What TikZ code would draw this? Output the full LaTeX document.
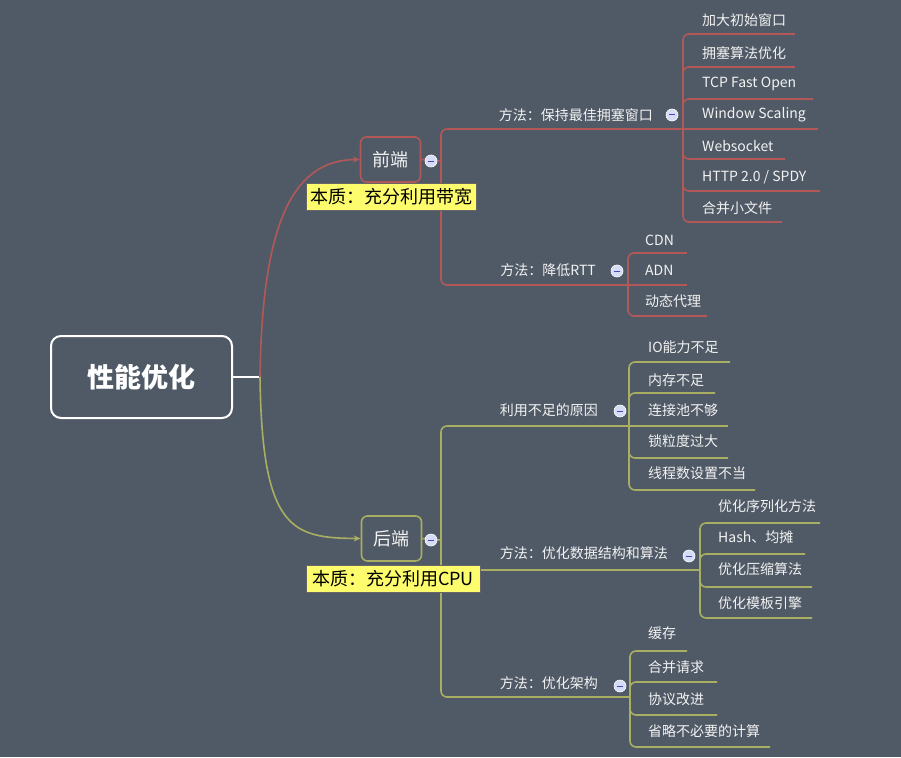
\documentclass[tikz,border=0pt]{standalone}
\usepackage{fontspec}
\setmainfont{Noto Sans CJK SC}
\usetikzlibrary{arrows.meta}
\definecolor{bg}{RGB}{80,90,102}
\definecolor{redl}{RGB}{178,88,88}
\definecolor{olivel}{RGB}{168,174,98}
\definecolor{yel}{RGB}{253,252,108}
\definecolor{dotc}{RGB}{214,220,245}
\definecolor{txt}{RGB}{242,242,242}
\tikzset{
  leaf/.style={text=txt, font=\fontsize{14}{16}\selectfont, inner sep=0pt, anchor=west},
  mid/.style={text=txt, font=\fontsize{14}{16}\selectfont, inner sep=0pt, anchor=east},
  rl/.style={draw=redl, line width=1.6pt, rounded corners=6pt},
  ol/.style={draw=olivel, line width=1.6pt, rounded corners=6pt},
  dotn/.style={circle, fill=dotc, draw=white, line width=0.6pt, minimum size=12pt, inner sep=0pt,
    path picture={\draw[black!45!dotc!60!blue, line width=1pt] ([xshift=-3pt]path picture bounding box.center) -- ([xshift=3pt]path picture bounding box.center);}},
  topic/.style={rectangle, rounded corners=6pt, line width=1.6pt, text=txt, font=\fontsize{18}{20}\selectfont, minimum width=60pt, minimum height=45pt, inner sep=0pt},
  note/.style={rectangle, fill=yel, draw=black!60, line width=0.7pt, text=black, font=\fontsize{18}{20}\selectfont, minimum height=27pt, inner sep=2pt}
}
\begin{document}
\begin{tikzpicture}[x=1pt,y=-1pt]
\fill[bg] (0,0) rectangle (901,757);
\useasboundingbox (0,0) rectangle (901,757);

% root
\node[draw=white, line width=2pt, rounded corners=10pt, minimum width=181pt, minimum height=82pt, text=white, font=\fontsize{27}{30}\selectfont\bfseries] (root) at (141.5,377) {性能优化};
\coordinate (rj) at (260,377);
\draw[white, line width=2pt] (root.east) -- (rj);

% main topics
\node[topic, draw=redl] (front) at (390.5,159.5) {前端};
\node[topic, draw=olivel] (back) at (391.5,538.5) {后端};

\draw[redl, line width=1.6pt, -{Stealth[length=7pt,width=6pt]}] (rj) .. controls (262,225) and (292,160) .. (front.west);
\draw[olivel, line width=1.6pt, -{Stealth[length=7pt,width=6pt]}] (rj) .. controls (262,530) and (292,538) .. (back.west);

\coordinate (fj) at (441,161);
\coordinate (bj) at (441,540);
\draw[rl] (front.east) -- (fj);
\draw[ol] (back.east) -- (bj);

% ---------- front branch ----------
\node[mid] (m1) at (653,115) {方法：保持最佳拥塞窗口};
\coordinate (m1e) at (683,129);
\node[mid] (m2) at (596,270) {方法：降低RTT};
\coordinate (m2e) at (628,285);
\draw[rl] (fj) |- (m1e);
\draw[rl] (fj) |- (m2e);

\node[leaf] (a1) at (702,20) {加大初始窗口};
\node[leaf] (a2) at (702,53) {拥塞算法优化};
\node[leaf] (a3) at (702,84) {TCP Fast Open};
\node[leaf] (a4) at (702,115) {Window Scaling};
\node[leaf] (a5) at (702,146) {Websocket};
\node[leaf] (a6) at (702,177) {HTTP 2.0 / SPDY};
\node[leaf] (a7) at (702,208) {合并小文件};
\coordinate (a1e) at (795,34);
\coordinate (a2e) at (795,67);
\coordinate (a3e) at (813,99);
\coordinate (a4e) at (818,129);
\coordinate (a5e) at (785,159);
\coordinate (a6e) at (820,191);
\coordinate (a7e) at (782,222);
\foreach \n in {a1e,a2e,a3e,a5e,a6e,a7e} \draw[rl] (m1e) |- (\n);
\draw[rl] (m1e) -- (a4e);

\node[leaf] (b1) at (645,240) {CDN};
\node[leaf] (b2) at (645,270) {ADN};
\node[leaf] (b3) at (645,301) {动态代理};
\coordinate (b1e) at (687,253);
\coordinate (b2e) at (687,285);
\coordinate (b3e) at (707,316);
\draw[rl] (m2e) |- (b1e);
\draw[rl] (m2e) -- (b2e);
\draw[rl] (m2e) |- (b3e);

% ---------- back branch ----------
\node[mid] (n1) at (598,410) {利用不足的原因};
\coordinate (n1e) at (629,426);
\node[mid] (n2) at (668,553) {方法：优化数据结构和算法};
\coordinate (n2e) at (700,570);
\node[mid] (n3) at (598,683) {方法：优化架构};
\coordinate (n3e) at (630,697);
\draw[ol] (bj) |- (n1e);
\draw[ol] (bj) |- (n2e);
\draw[ol] (bj) |- (n3e);

\node[leaf] (c1) at (648,347) {IO能力不足};
\node[leaf] (c2) at (648,380) {内存不足};
\node[leaf] (c3) at (648,410) {连接池不够};
\node[leaf] (c4) at (648,441) {锁粒度过大};
\node[leaf] (c5) at (648,473) {线程数设置不当};
\coordinate (c1e) at (730,362);
\coordinate (c2e) at (715,393);
\coordinate (c3e) at (728,426);
\coordinate (c4e) at (728,458);
\coordinate (c5e) at (755,490);
\foreach \n in {c1e,c2e,c4e,c5e} \draw[ol] (n1e) |- (\n);
\draw[ol] (n1e) -- (c3e);

\node[leaf] (d1) at (718,506) {优化序列化方法};
\node[leaf] (d2) at (718,537) {Hash、均摊};
\node[leaf] (d3) at (718,569) {优化压缩算法};
\node[leaf] (d4) at (718,603) {优化模板引擎};
\coordinate (d1e) at (820,523);
\coordinate (d2e) at (805,554);
\coordinate (d3e) at (812,587);
\coordinate (d4e) at (812,618);
\foreach \n in {d1e,d2e,d3e,d4e} \draw[ol] (n2e) |- (\n);

\node[leaf] (e1) at (648,633) {缓存};
\node[leaf] (e2) at (648,667) {合并请求};
\node[leaf] (e3) at (648,699) {协议改进};
\node[leaf] (e4) at (648,731) {省略不必要的计算};
\coordinate (e1e) at (687,651);
\coordinate (e2e) at (717,682);
\coordinate (e3e) at (717,715);
\coordinate (e4e) at (770,747);
\foreach \n in {e1e,e2e,e3e,e4e} \draw[ol] (n3e) |- (\n);

% notes on top of the branch lines
\node[note, minimum width=170pt] (fnote) at (391,196.5) {本质：充分利用带宽};
\node[note, minimum width=174pt] (bnote) at (393,578.5) {本质：充分利用CPU};

% collapse dots
\node[dotn] (fd) at (431,161) {};
\node[dotn] (bd) at (431,540) {};
\node[dotn] (m1d) at (672,115) {};
\node[dotn] (m2d) at (617,271) {};
\node[dotn] (n1d) at (620,411) {};
\node[dotn] (n2d) at (689,556) {};
\node[dotn] (n3d) at (620,686) {};
\end{tikzpicture}
\end{document}
